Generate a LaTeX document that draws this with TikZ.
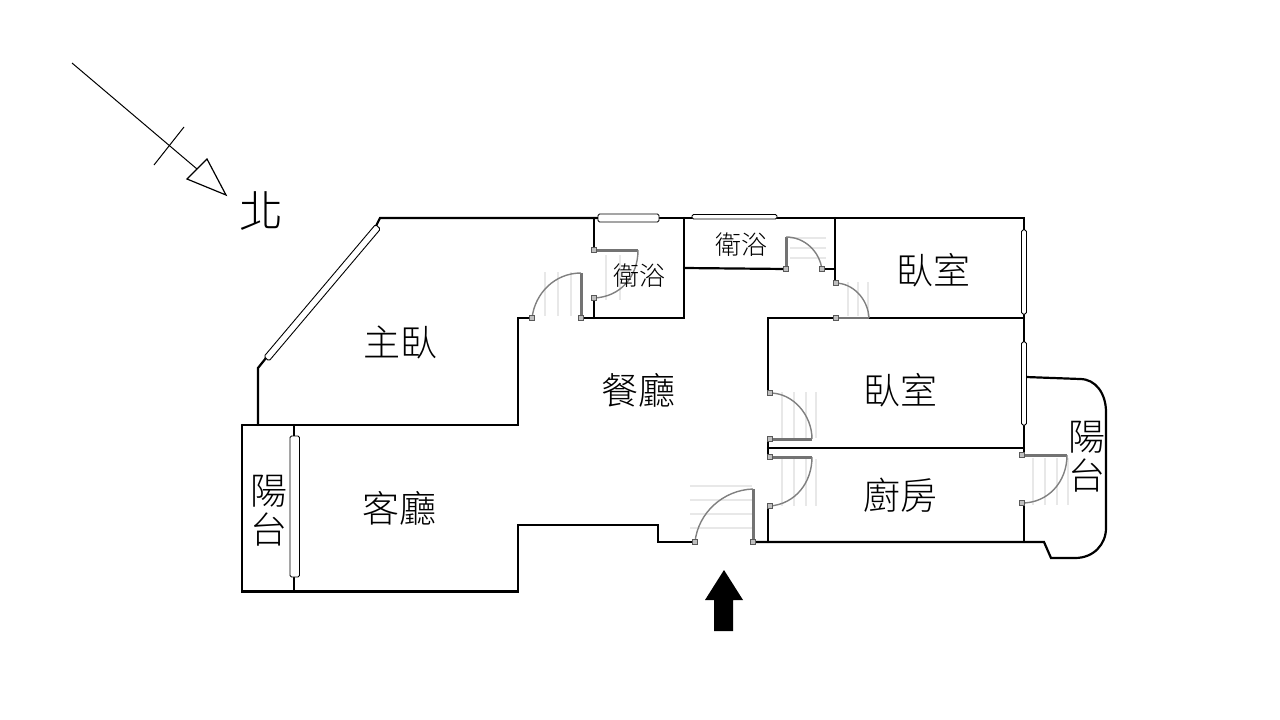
\documentclass[tikz,border=0pt]{standalone}
\usepackage{fontspec}
\setmainfont{Noto Sans CJK TC}[UprightFont=* Light]
\usetikzlibrary{positioning}
\usepackage{xcolor}
\tikzstyle{plan}=[
  >=stealth,x=1pt,y=-1pt,line join=miter
]
\tikzstyle{wall}=[
  line width=2.2pt,black,line cap=round
]
\tikzstyle{window}=[
  draw=black,fill=white,line width=0.9pt,rounded corners=1.5pt
]
\tikzstyle{leaf}=[
  line width=3pt,black!55
]
\tikzstyle{swing}=[
  line width=1.4pt,black!50
]
\tikzstyle{hinge}=[
  draw=black!65,fill=black!25,line width=0.8pt
]
\tikzstyle{ghost}=[
  line width=1.2pt,black!9
]
\tikzstyle{room}=[
  font=\fontsize{37}{39}\selectfont,inner sep=0pt
]
\tikzstyle{smallroom}=[
  font=\fontsize{26}{28}\selectfont,inner sep=0pt
]
\begin{document}
\begin{tikzpicture}[plan]
    \useasboundingbox (0,0) rectangle (1280,720);
    % faint lines around the doors
    \foreach \x in {545,558,571} \draw [ghost] (\x,272) -- (\x,316);
    \foreach \x in {606,620} \draw [ghost] (\x,255) -- (\x,300);
    \foreach \x in {848,858,868} \draw [ghost] (\x,282) -- (\x,316);
    \foreach \x in {782,794,806,816} \draw [ghost] (\x,392) -- (\x,438);
    \foreach \x in {782,794,806,816} \draw [ghost] (\x,459) -- (\x,506);
    \foreach \x in {1033,1045,1057,1068} \draw [ghost] (\x,458) -- (\x,505);
    \foreach \y in {486,500,514,528} \draw [ghost] (690,\y) -- (752,\y);
    \foreach \y in {238,248,258} \draw [ghost] (790,\y) -- (826,\y);
    % walls
    \draw [wall] (598,218) -- (380,218) -- (376,226);
    \draw [wall] (266,358) -- (258,368) -- (258,425);
    \draw [wall] (659,218) -- (692,218);
    \draw [wall] (777,218) -- (1024,218) -- (1024,453);
    \draw [wall] (1024,503) -- (1024,542);
    \draw [wall] (242,425) -- (518,425) -- (518,318) -- (532,318);
    \draw [wall] (581,318) -- (684,318) -- (684,218);
    \draw [wall] (594,218) -- (594,250);
    \draw [wall] (594,298) -- (594,318);
    \draw [wall] (684,268) -- (786,269);
    \draw [wall] (822,269) -- (835,269);
    \draw [wall] (835,218) -- (835,283);
    \draw [wall] (869,318) -- (1024,318);
    \draw [wall] (835,318) -- (768,318) -- (768,393);
    \draw [wall] (768,439) -- (768,457);
    \draw [wall] (768,506) -- (768,542);
    \draw [wall] (768,448) -- (1024,448);
    \draw [wall] (242,425) -- (242,591.5) -- (518,591.5) -- (518,525) -- (658,525) -- (658,542) -- (693,542);
    \draw [wall] (753,542) -- (1044,542) -- (1051,558) -- (1075,558)
      .. controls (1094,558) and (1106,544) .. (1106,528) -- (1106,412)
      .. controls (1106,394) and (1096,379) .. (1080,379) -- (1026,377);
    \draw [wall] (294,425) -- (294,591.5);
    % windows
    \draw [window] (598,214) rectangle (659,222);
    \draw [window] (692,214.5) rectangle (777,219);
    \draw [window] (1021.5,230) rectangle (1026.5,314);
    \draw [window] (1021.5,342) rectangle (1026.5,425);
    \draw [window] (290,436) rectangle (299.5,577);
    \draw [window] (375.5,224.5) -- (380.5,229) -- (269,361) -- (264,356.5) -- cycle;
    % doors
    \draw [leaf] (581,273) -- (581,318);
    \draw [swing] (581,273) .. controls (555,273) and (535,293) .. (532,318);
    \draw [leaf] (594,250) -- (638,250);
    \draw [swing] (638,250) .. controls (638,277) and (620,297) .. (594,298);
    \draw [leaf] (786,237) -- (786,270);
    \draw [swing] (786,237) .. controls (805,237) and (820,252) .. (822,270);
    \draw [leaf,line width=2pt] (835,318) -- (869,318);
    \draw [swing] (835,283) .. controls (853,283) and (868,299) .. (869,318);
    \draw [leaf] (770,439) -- (812,439);
    \draw [swing] (770,393) .. controls (793,393) and (812,415) .. (812,439);
    \draw [leaf] (770,457) -- (812,457);
    \draw [swing] (812,457) .. controls (812,483) and (795,504) .. (770,506);
    \draw [leaf] (1022,455) -- (1067,455);
    \draw [swing] (1067,455) .. controls (1067,482) and (1048,503) .. (1022,503);
    \draw [leaf] (753,489) -- (753,542);
    \draw [swing] (753,489) .. controls (723,490) and (698,513) .. (695,542);
    % hinges
    \foreach \x/\y in {532/318,581/318,594/250,594/298,786/269,822/269,836/283,836/318,770/393,770/439,770/457,770/506,1022/455,1022/503,695/542,753/542}
      \draw [hinge] (\x-2.5,\y-2.5) rectangle (\x+2.5,\y+2.5);
    % north sign
    \coordinate (tail) at (72,63);
    \coordinate (tip) at (226,195);
    \node (north) at (261,211) [room,font=\fontsize{44}{46}\selectfont] {北};
    \draw [line width=1pt] (tail) -- (197,169);
    \draw [line width=1pt] (184,127) -- (154,165);
    \draw [line width=1.2pt] (tip) -- (187,179) -- (207,159) -- cycle;
    % entrance
    \fill [black] (714,631) -- (714,600) -- (705,600) -- (724,570) -- (743,600) -- (733,600) -- (733,631) -- cycle;
    % rooms
    \node (master) at (400,342) [room] {主臥};
    \node (dining) at (638,390) [room] {餐廳};
    \node (living) at (399,508) [room] {客廳};
    \node (bedone) at (933,270) [room] {臥室};
    \node (bedtwo) at (900,390) [room] {臥室};
    \node (kitchen) at (900,495) [room] {廚房};
    \node (bathone) at (639,276) [smallroom] {衛浴};
    \node (bathtwo) at (741,245) [smallroom] {衛浴};
    \node (balconyw) at (269,491) [room] {陽};
    \node (balconyx) at (269,530) [room] {台};
    \node (balconye) at (1087,437) [room] {陽};
    \node (balconyf) at (1087,476) [room] {台};
\end{tikzpicture}
\end{document}
